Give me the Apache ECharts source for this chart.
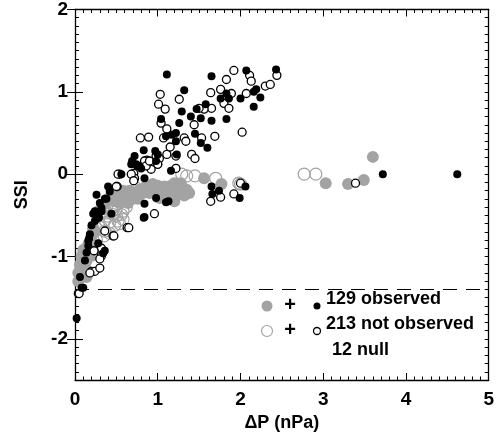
<!DOCTYPE html>
<html>
<head>
    <meta charset="utf-8">
    <title>SSI vs dP</title>
    <script src="https://cdn.jsdelivr.net/npm/echarts@6/dist/echarts.min.js"></script>
    <style>
        html,body{
            margin: 0;
            padding: 0;
            background-color: #ffffff;
        }
        #chart{
            width: 497px;
            height: 438px;
        }
    </style>
</head>
<body>
<div id="chart"></div>
<script>
    // gray big circles, filled = observed, open = not observed
    var grayObserved = [
        [3.60,0.21],[3.03,-0.11],[3.30,-0.12],[3.49,-0.07],[1.56,-0.05],[1.77,-0.12],[1.35,-0.19],[1.38,-0.23],
        [1.20,-0.11],[1.22,-0.25],[1.16,-0.14],[1.08,-0.15],[1.02,-0.18],[0.96,-0.21],[0.90,-0.23],[0.80,-0.23],
        [1.20,-0.33],[1.28,-0.11],[0.48,-0.33],[0.62,-0.27],[0.74,-0.24],[0.82,-0.23],[0.98,-0.23],[1.10,-0.18],
        [1.02,-0.29],[0.54,-0.35],[0.60,-0.29],[0.52,-0.33],[0.72,-0.24],[0.22,-0.65],[0.22,-0.67],[0.18,-0.96],
        [0.14,-1.05],[0.12,-0.96],[0.10,-1.20],[0.06,-1.26],[0.04,-1.30],[0.16,-0.85],[0.18,-0.90],[0.20,-0.99],
        [0.10,-1.14],[0.08,-1.21],[0.40,-0.30],[0.44,-0.27],[0.86,-0.15],[0.94,-0.12],[1.30,-0.20],[0.66,-0.20],
        [0.36,-0.36],[0.28,-0.45],[1.12,-0.24],[0.70,-0.30],
        [0.50,-0.22],[0.58,-0.20],[0.68,-0.22],[0.78,-0.19],[0.88,-0.20],[1.00,-0.14],[1.06,-0.25],[1.15,-0.28],
        [1.25,-0.18],[1.32,-0.26],[0.46,-0.24],[0.76,-0.30],[0.64,-0.35],[0.08,-1.00],[0.12,-1.12],[0.14,-1.25],
        [0.06,-1.10],[0.16,-1.00],[0.04,-1.20],[0.10,-0.92],[0.20,-0.75],[0.24,-0.70]
    ];
    var grayNotObserved = [
        [2.77,0.00],[2.91,0.00],[1.35,-0.02],[1.29,0.00],[1.70,-0.05],[1.98,-0.11],[2.00,-0.12],[0.34,-0.45],
        [0.40,-0.51],[0.50,-0.51],[0.58,-0.45],[0.32,-0.65],[0.54,-0.60],[0.42,-0.72],[0.74,-0.17],[0.48,-0.39],
        [0.30,-0.47],[0.38,-0.47],[0.46,-0.49],[0.56,-0.49],[0.52,-0.57],[0.36,-0.69],[0.87,-0.18],[0.26,-0.80],
        [0.62,-0.40],[1.45,-0.02],[0.38,-0.40],[0.44,-0.42],[0.50,-0.42],[0.42,-0.58],[0.36,-0.56],[0.58,-0.55],
        [0.48,-0.62],[0.35,-0.75]
    ];
    // small black circles, filled = observed, open = not observed
    var blackObserved = [
        [1.11,1.21],[1.32,1.02],[1.65,1.19],[2.07,1.26],[2.43,1.27],[2.16,0.82],[1.29,0.76],[1.04,0.67],
        [1.26,0.62],[1.40,0.70],[1.47,0.79],[1.58,0.85],[1.65,0.65],[1.83,0.67],[1.76,0.92],[1.86,0.92],
        [1.83,0.98],[2.00,0.92],[2.16,1.00],[2.19,1.03],[2.24,0.93],[1.17,0.48],[1.22,0.40],[1.10,0.46],
        [1.22,0.50],[1.45,0.49],[1.52,0.38],[1.60,0.32],[1.52,0.68],[0.83,0.29],[0.97,0.28],[0.72,0.22],
        [0.69,0.16],[0.75,0.10],[0.80,0.07],[0.98,0.16],[1.23,0.24],[0.84,-0.05],[1.16,0.04],[0.56,0.00],
        [0.74,0.12],[0.42,-0.21],[1.65,-0.15],[1.66,-0.24],[1.74,-0.20],[2.06,-0.15],[1.99,-0.29],[3.72,0.00],
        [4.62,0.00],[1.10,-0.34],[0.84,-0.52],[0.98,-0.29],[0.32,-0.41],[0.24,-0.57],[0.16,-0.81],[0.18,-0.73],
        [0.34,-0.96],[0.28,-0.84],[0.16,-0.87],[0.10,-1.38],[0.02,-1.75],[0.22,-0.48],[0.32,-0.45],[0.84,-0.36],
        [0.30,-0.35],[0.36,-0.30],[0.20,-0.62],[0.14,-0.95],[0.12,-1.05],[0.06,-1.25],
        [0.38,-0.30],[0.29,-0.53],[0.24,-0.45],[0.17,-0.78],[0.36,-0.93],[0.08,-1.38],[0.83,-0.53],[1.13,-0.33],
        [0.68,0.12],[0.78,0.10],[1.00,0.24],[0.44,-0.48],[0.40,-0.15],[0.26,-0.25]
    ];
    var blackNotObserved = [
        [1.03,0.97],[1.01,0.85],[1.09,0.79],[1.26,0.91],[1.64,0.99],[1.76,1.03],[1.92,1.26],[1.83,1.15],
        [1.80,0.86],[1.86,0.80],[2.02,0.51],[1.11,0.55],[0.79,0.44],[0.89,0.45],[1.07,0.44],[1.32,0.44],
        [1.34,0.40],[1.44,0.60],[1.53,0.44],[1.69,0.46],[1.65,0.80],[1.56,0.79],[1.50,0.80],[1.04,0.62],
        [1.11,0.24],[0.98,0.22],[1.00,0.12],[1.02,0.19],[1.22,0.22],[1.41,0.24],[1.45,0.19],[0.87,0.17],
        [0.84,0.16],[0.92,0.06],[1.22,0.07],[0.54,0.00],[0.71,0.01],[0.72,-0.05],[0.51,-0.15],[2.00,-0.11],
        [1.92,-0.24],[2.11,1.20],[2.13,1.13],[2.07,0.98],[2.30,1.07],[2.36,1.09],[2.44,1.20],[1.89,0.98],
        [3.39,-0.11],[0.96,-0.48],[1.64,-0.33],[1.76,-0.28],[0.63,-0.65],[0.46,-0.75],[0.32,-0.99],[0.30,-1.03],
        [0.20,-1.18],[0.24,-1.18],[0.30,-1.14],[0.04,-1.45],[0.52,0.00],[0.68,0.00],[1.15,0.33],
        [0.71,-0.08],[0.50,-0.15],[0.65,-0.65],[0.47,-0.75],[0.36,-0.69],[0.32,-0.90],[0.23,-0.93],[0.18,-1.20],
        [0.05,-1.45],[0.86,0.10],[0.90,0.16],[1.00,0.12]
    ];
    var thresholdSSI = -1.4;
    var yLabelValues = [-2, -1, 0, 1, 2];

    var font = 'Liberation Sans';
    var gray = '#a3a3a3';

    function shortY(pos, showLabel){
        return {
            type: 'value', position: pos, min: -2.5, max: 2, interval: 0.5,
            axisLine: {show: true, onZero: false, lineStyle: {color: '#000', width: 1.3}},
            axisTick: {show: true, inside: true, length: 4, lineStyle: {color: '#000'}},
            minorTick: {show: true, splitNumber: 5, length: 4, lineStyle: {color: '#000'}},
            axisLabel: {
                show: showLabel, customValues: yLabelValues, margin: 7,
                fontFamily: font, fontWeight: 'bold', fontSize: 19, color: '#000'
            },
            splitLine: {show: false}
        };
    }
    function longY(pos){
        return {
            type: 'value', position: pos, min: -2.5, max: 2, interval: 0.5,
            axisLine: {show: false},
            axisTick: {show: true, inside: true, length: 8, customValues: yLabelValues, lineStyle: {color: '#000'}},
            axisLabel: {show: false},
            splitLine: {show: false}
        };
    }
    function xAx(pos, showLabel){
        return {
            type: 'value', position: pos, min: 0, max: 5, interval: 1,
            axisLine: {show: true, onZero: false, lineStyle: {color: '#000', width: 1.3}},
            axisTick: {show: true, inside: true, length: 7, lineStyle: {color: '#000'}},
            minorTick: {show: true, splitNumber: 10, length: 3.5, lineStyle: {color: '#000'}},
            axisLabel: {
                show: showLabel, margin: 10,
                fontFamily: font, fontWeight: 'bold', fontSize: 19, color: '#000'
            },
            splitLine: {show: false}
        };
    }

    var xBottom = xAx('bottom', true);
    xBottom.name = 'ΔP (nPa)';
    xBottom.nameLocation = 'middle';
    xBottom.nameGap = 28;
    xBottom.nameTextStyle = {fontFamily: font, fontWeight: 'bold', fontSize: 18, color: '#000'};

    var yLeft = shortY('left', true);
    yLeft.name = 'SSI';
    yLeft.nameLocation = 'middle';
    yLeft.nameGap = 44;
    yLeft.nameTextStyle = {fontFamily: font, fontWeight: 'bold', fontSize: 18, color: '#000'};

    var legendRows = [
        {y: 306, filled: true, text: '129 observed'},
        {y: 331, filled: false, text: '213 not observed'}
    ];
    var graphics = [];
    legendRows.forEach(function(r){
        graphics.push({type: 'circle', shape: {cx: 267, cy: r.y, r: 5.5},
            style: r.filled ? {fill: gray} : {fill: 'none', stroke: gray, lineWidth: 1.2}});
        graphics.push({type: 'text', x: 290, y: r.y - 1,
            style: {text: '+', fontFamily: font, fontWeight: 'bold', fontSize: 20, fill: '#000', align: 'center', verticalAlign: 'middle'}});
        graphics.push({type: 'circle', shape: {cx: 317, cy: r.y, r: 3.5},
            style: r.filled ? {fill: '#000'} : {fill: '#fff', stroke: '#000', lineWidth: 1.3}});
        graphics.push({type: 'text', x: 326, y: r.y - 7,
            style: {text: r.text, fontFamily: font, fontWeight: 'bold', fontSize: 18, fill: '#000', verticalAlign: 'middle'}});
    });
    graphics.push({type: 'text', x: 332, y: 350,
        style: {text: '12 null', fontFamily: font, fontWeight: 'bold', fontSize: 18, fill: '#000', verticalAlign: 'middle'}});

    var myChart = echarts.init(document.getElementById('chart'), null, {renderer: 'canvas'});
    var option = {
        animation: false,
        backgroundColor: '#fff',
        grid: {left: 75, right: 5, top: 9, bottom: 58},
        xAxis: [xBottom, xAx('top', false)],
        yAxis: [yLeft, longY('left'), shortY('right', false), longY('right')],
        graphic: graphics,
        series: [
            {
                name: 'gray observed', type: 'scatter', data: grayObserved, symbolSize: 12,
                itemStyle: {color: gray, opacity: 1},
                markLine: {
                    silent: true, symbol: 'none', label: {show: false},
                    lineStyle: {color: '#000', type: [14, 9], width: 1.2},
                    data: [{yAxis: thresholdSSI}]
                }
            },
            {
                name: 'gray not observed', type: 'scatter', data: grayNotObserved, symbolSize: 12,
                itemStyle: {color: 'rgba(0,0,0,0)', borderColor: gray, borderWidth: 1.2, opacity: 1}
            },
            {
                name: 'black not observed', type: 'scatter', data: blackNotObserved, symbolSize: 8,
                itemStyle: {color: '#fff', borderColor: '#000', borderWidth: 1.3, opacity: 1}
            },
            {
                name: 'black observed', type: 'scatter', data: blackObserved, symbolSize: 8,
                itemStyle: {color: '#000', opacity: 1}
            }
        ]
    };
    myChart.setOption(option);
</script>
</body>
</html>
